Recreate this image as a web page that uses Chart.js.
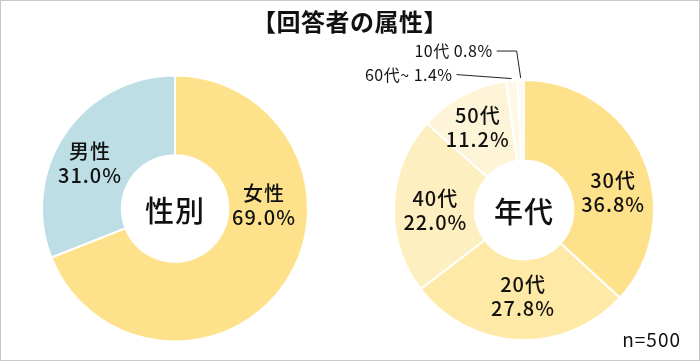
<!DOCTYPE html>
<html lang="ja">
<head>
<meta charset="utf-8">
<script src="https://cdn.jsdelivr.net/npm/chart.js@4/dist/chart.umd.min.js"></script>
<style>
  html, body { margin: 0; padding: 0; background: #fff; }
  #wrap {
    position: relative; width: 700px; height: 361px; box-sizing: border-box;
    border: 1px solid #c8c8c8; overflow: hidden;
    font-family: "Noto Sans CJK JP", "Noto Sans", sans-serif; color: #111;
  }
  #title {
    position: absolute; left: 0; right: 0; top: 5px; text-align: center;
    font-size: 24px; font-weight: bold; line-height: 30px; letter-spacing: 0.5px;
  }
  #note { position: absolute; right: 18px; bottom: 10px; font-size: 19px; line-height: 22px; letter-spacing: 1px; }
  canvas { position: absolute; top: -1px; }
</style>
</head>
<body>
<div id="wrap">
  <canvas id="genderChart" width="350" height="361" style="left:-1px"></canvas>
  <canvas id="ageChart" width="350" height="361" style="left:349px"></canvas>
  <div id="title">【回答者の属性】</div>
  <div id="note">n=500</div>
</div>
<script>
/* global Chart */

// gender
var genderLabels = ["女性", "男性"];
var genderValues = [69.0, 31.0];
var genderColors = ["#FEE28B", "#BCDEE4"];

// age (clockwise from 12 o'clock)
var ageLabels = ["30代", "20代", "40代", "50代", "60代~", "10代"];
var ageValues = [36.8, 27.8, 22.0, 11.2, 1.4, 0.8];
var ageColors = ["#FEE28B", "#FEE9A6", "#FEEFC0", "#FEF4D8", "#FFF8E6", "#FFFBF1"];

Chart.defaults.font.family = '"Noto Sans CJK JP", "Noto Sans", sans-serif';

// draws "name / xx.x%" inside slices, leader labels for the tiny ones, and the hole text
var sliceLabels = {
  id: "sliceLabels",
  afterDatasetsDraw: function (chart) {
    var opts = chart.options.plugins.sliceLabels;
    var meta = chart.getDatasetMeta(0);
    var ds = chart.data.datasets[0];
    var ctx = chart.ctx;
    ctx.save();
    ctx.fillStyle = "#111";
    ctx.textBaseline = "middle";

    meta.data.forEach(function (arc, i) {
      var name = chart.data.labels[i];
      var pct = ds.data[i].toFixed(1) + "%";
      var lead = opts.leaders[i];
      if (lead) {
        var mid = (arc.startAngle + arc.endAngle) / 2;
        var px = arc.x + Math.cos(mid) * (arc.outerRadius + 2);
        var py = arc.y + Math.sin(mid) * (arc.outerRadius + 2);
        var sx = px + lead.dx, sy = py + lead.dy;
        ctx.strokeStyle = "#222";
        ctx.lineWidth = 1;
        ctx.beginPath();
        ctx.moveTo(sx, sy);
        if (lead.elbow) ctx.lineTo(px + lead.elbow, sy);
        ctx.lineTo(px, py);
        ctx.stroke();
        ctx.font = "16px " + Chart.defaults.font.family;
        ctx.letterSpacing = "0.5px";
        ctx.textAlign = "right";
        ctx.fillText(name + " " + pct, sx - 4, sy);
        return;
      }
      var p = arc.getCenterPoint();
      var sh = opts.shift[i] || [0, 0];
      ctx.font = "500 20px " + Chart.defaults.font.family;
      ctx.letterSpacing = "1px";
      ctx.textAlign = "center";
      ctx.fillText(name, p.x + sh[0], p.y + sh[1] - 12);
      ctx.fillText(pct, p.x + sh[0], p.y + sh[1] + 12);
    });

    var a0 = meta.data[0];
    ctx.font = "500 29px " + Chart.defaults.font.family;
    ctx.letterSpacing = "1px";
    ctx.textAlign = "center";
    ctx.fillText(opts.center, a0.x, a0.y + 2);
    ctx.restore();
  }
};

function makeDonut(id, labels, values, colors, cutout, padding, labelOpts) {
  return new Chart(document.getElementById(id), {
    type: "doughnut",
    data: {
      labels: labels,
      datasets: [{
        data: values,
        backgroundColor: colors,
        borderColor: "#fff",
        borderWidth: 2
      }]
    },
    options: {
      responsive: false,
      animation: false,
      events: [],
      cutout: cutout,
      layout: { padding: padding },
      plugins: {
        legend: { display: false },
        tooltip: { enabled: false },
        sliceLabels: labelOpts
      }
    },
    plugins: [sliceLabels]
  });
}

makeDonut("genderChart", genderLabels, genderValues, genderColors, "40%",
  { left: 41, right: 41, top: 74, bottom: 18 },
  { center: "性別", shift: [[12, -55], [-8, 7]], leaders: {} });

makeDonut("ageChart", ageLabels, ageValues, ageColors, "38%",
  { left: 43, right: 45, top: 79, bottom: 20 },
  {
    center: "年代",
    shift: [[7, 19], [3, -3], [1, 4], [-4, -3]],
    leaders: {
      4: { dx: -55, dy: -4 },
      5: { dx: -24, dy: -27, elbow: -4 }
    }
  });
</script>
</body>
</html>
